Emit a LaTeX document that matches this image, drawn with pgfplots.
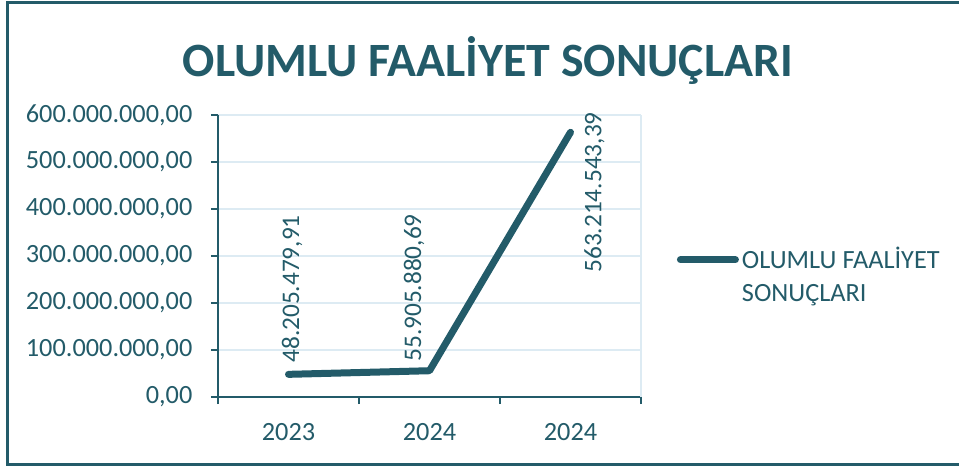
\documentclass[border=0pt]{standalone}
\usepackage{pgfplots}
\pgfplotsset{compat=1.18}
\usepackage{fontspec}
\setmainfont{Carlito}
\definecolor{dteal}{HTML}{235B69}
\definecolor{lgrid}{HTML}{DDEBF3}
\begin{document}
\begin{tikzpicture}
\useasboundingbox (0bp,0bp) rectangle (479.5bp,233bp);
\draw[dteal, line width=1.5bp] (490bp,231.5bp) -- (3.5bp,231.5bp) -- (3.5bp,1bp) -- (490bp,1bp);
\node[anchor=base, font=\fontsize{24}{28}\selectfont\bfseries, text=dteal] at (244bp,194.5bp) {OLUMLU FAALİYET SONUÇLARI};
\begin{axis}[
  at={(109bp,34.5bp)}, anchor=south west,
  scale only axis, width=211.5bp, height=141bp,
  xmin=-0.5, xmax=2.5, ymin=0, ymax=6e8,
  ytick={0,1e8,2e8,3e8,4e8,5e8,6e8},
  xtick={0,1,2}, xticklabels={2023,2024,2024},
  minor xtick={-0.5,0.5,1.5,2.5},
  axis x line*=bottom, axis y line*=left,
  axis line style={dteal, line width=1bp, -},
  tick align=outside,
  major tick length=3.5bp, minor tick length=3.5bp,
  every tick/.style={dteal, line width=1bp},
  major x tick style={draw=none},
  ymajorgrids, grid style={lgrid, line width=1bp},
  scaled y ticks=false,
  yticklabel style={/pgf/number format/fixed, /pgf/number format/fixed zerofill, /pgf/number format/precision=2, /pgf/number format/1000 sep={.}, /pgf/number format/dec sep={,}, /pgf/number format/assume math mode=true, xshift=-5.8bp},
  ticklabel style={font=\fontsize{13.2}{15}\selectfont, text=dteal},
  xticklabel style={yshift=-6.3bp},
  clip=false,
  legend style={draw=none, fill=none, at={(1.084,0.43)}, anchor=west, inner sep=0pt,
    font=\fontsize{13.2}{16.5}\selectfont, text=dteal,
    nodes={align=left, inner sep=1.5bp}},
  legend image code/.code={\path[draw=none] (0bp,-8bp) rectangle (27.5bp,8bp); \draw (0bp,8bp) -- (27.5bp,8bp);},
  after end axis/.code={\draw[lgrid, line width=1bp] (rel axis cs:1,0) -- (rel axis cs:1,1);},
]
\addplot[dteal, line width=3.5bp, line cap=round, line join=round, mark=none]
  coordinates {(0,48205479.91) (1,55905880.69) (2,563214543.39)};
\addlegendentry{OLUMLU FAALİYET\\SONUÇLARI}
\node[rotate=90, anchor=west, inner sep=0pt, font=\fontsize{12.7}{15}\selectfont, text=dteal] at (axis cs:0.025,72.3e6) {48.205.479,91};
\node[rotate=90, anchor=west, inner sep=0pt, font=\fontsize{12.7}{15}\selectfont, text=dteal] at (axis cs:0.89,74.5e6) {55.905.880,69};
\node[rotate=90, anchor=west, inner sep=0pt, font=\fontsize{12.7}{15}\selectfont, text=dteal] at (axis cs:2.17,264e6) {563.214.543,39};
\end{axis}
\end{tikzpicture}
\end{document}
